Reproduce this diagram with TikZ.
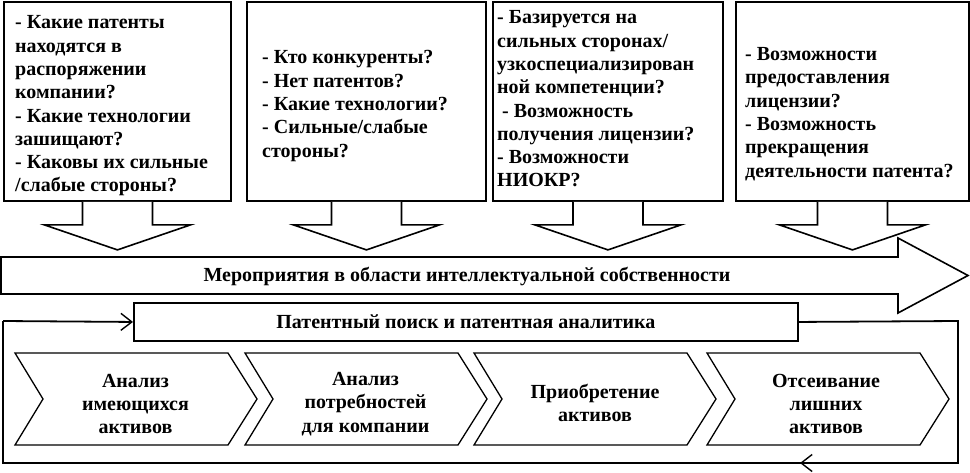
\documentclass[tikz,border=0pt]{standalone}
\usepackage{fontspec}
\setmainfont{Liberation Serif}
\usetikzlibrary{arrows.meta}
\begin{document}
\begin{tikzpicture}[x=1pt,y=-1pt,
  every node/.style={font=\fontsize{20}{23.3}\selectfont\bfseries},
  qbox/.style={draw, line width=1.9pt, anchor=north west, inner sep=0pt},
  qtext/.style={align=left, anchor=west, inner sep=0pt},
  blockarrow/.style={draw, line width=1.6pt, fill=white, line join=miter},
  chev/.style={draw, line width=1.3pt, line join=miter},
  ctext/.style={align=center, inner sep=0pt},
  loopline/.style={draw, line width=1.8pt},
  tip/.style={-{Straight Barb[length=11pt,width=17pt,line width=1.4pt]}}
]
\useasboundingbox (0,0) rectangle (970,472);

% question boxes
\node[qbox, minimum width=227pt, minimum height=199pt] (b1) at (3,1) {};
\node[qbox, minimum width=239pt, minimum height=199pt] (b2) at (246,1) {};
\node[qbox, minimum width=230pt, minimum height=199pt] (b3) at (492,1) {};
\node[qbox, minimum width=233pt, minimum height=199pt] (b4) at (735,1) {};

\node[qtext] (t1) at (15,106) {- Какие патенты\\находятся в\\распоряжении\\компании?\\- Какие технологии\\зашищают?\\- Каковы их сильные\\/слабые стороны?};
\node[qtext] (t2) at (262,106) {- Кто конкуренты?\\- Нет патентов?\\- Какие технологии?\\- Сильные/слабые\\стороны?};
\node[qtext] (t3) at (497,99) {- Базируется на\\сильных сторонах/\\узкоспециализирован\\ной компетенции?\\\hspace*{5pt}- Возможность\\получения лицензии?\\- Возможности\\НИОКР?};
\node[qtext] (t4) at (745,114) {- Возможности\\предоставления\\лицензии?\\- Возможность\\прекращения\\деятельности патента?};

% block arrows under the boxes
\foreach \b in {b1,b2,b3,b4}
  \draw[blockarrow] (\b.south) ++(-35,0) -- ++(0,23) -- ++(-38,0) -- ++(73,25) -- ++(73,-25) -- ++(-38,0) -- ++(0,-23);

% big arrow
\draw[blockarrow] (1,257) -- (898,257) -- (898,238) -- (968,275.5) -- (898,313) -- (898,294) -- (1,294) -- cycle;
\node (ip) at (467,276) {Мероприятия в области интеллектуальной собственности};

% patent search box
\node[qbox, minimum width=664pt, minimum height=38pt] (pat) at (133,302) {Патентный поиск и патентная аналитика};

% loop
\coordinate (lr) at (958,321);
\coordinate (lb) at (958,463);
\coordinate (lm) at (800,463);
\coordinate (ll) at (3,463);
\coordinate (lt) at (3,321);
\draw[loopline] (pat.east) -- (lr) -- (lb) -- (lm);
\draw[loopline,tip] (lb) -- (lm);
\draw[loopline] (lm) -- (ll) -- (lt);
\draw[loopline,tip] (lt) -- (pat.west);

% chevrons
\foreach \L in {15,245,474,707}
  \draw[chev] (\L,353) -- (\L+213,353) -- (\L+242,399) -- (\L+213,445) -- (\L,445) -- (\L+28,399) -- cycle;

\node[ctext] (a1) at (135.5,404) {Анализ\\имеющихся\\активов};
\node[ctext] (a2) at (365.5,404) {Анализ\\потребностей\\для компании};
\node[ctext] (a3) at (595,403) {Приобретение\\активов};
\node[ctext] (a4) at (826,404) {Отсеивание\\лишних\\активов};
\end{tikzpicture}
\end{document}
